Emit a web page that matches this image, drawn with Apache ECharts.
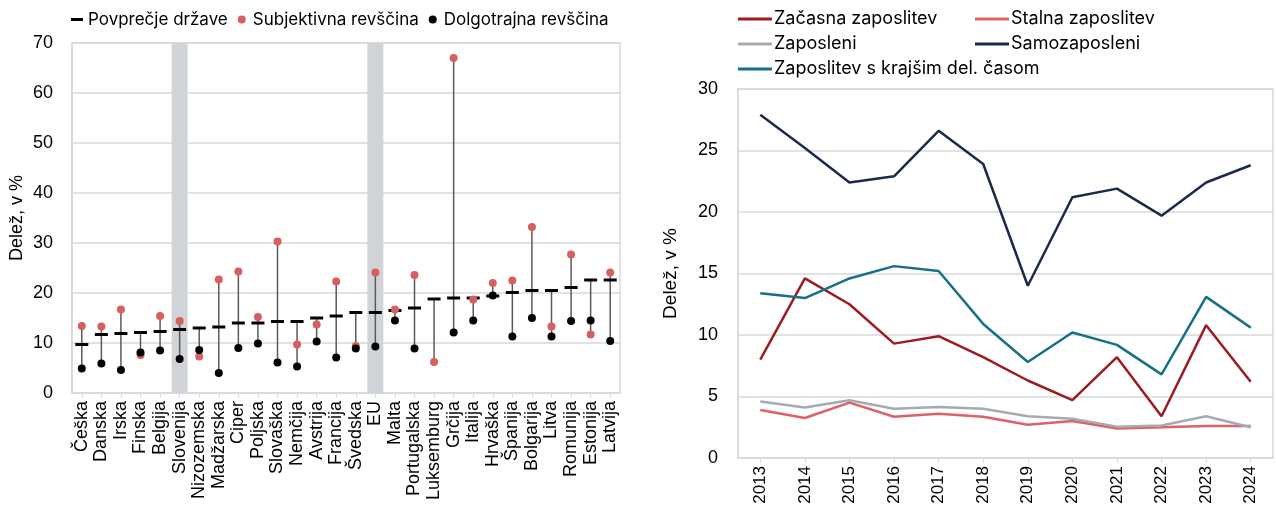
<!DOCTYPE html>
<html>
<head>
<meta charset="utf-8">
<script src="https://cdn.jsdelivr.net/npm/echarts@6/dist/echarts.min.js"></script>
<style>
html,body{margin:0;padding:0;background:#fff;}
#c{width:1276px;height:516px;}
</style>
</head>
<body>
<div id="c"></div>
<script>
// ---- Left chart data ----
const countries = ['Češka','Danska','Irska','Finska','Belgija','Slovenija','Nizozemska','Madžarska','Ciper','Poljska','Slovaška','Nemčija','Avstrija','Francija','Švedska','EU','Malta','Portugalska','Luksemburg','Grčija','Italija','Hrvaška','Španija','Bolgarija','Litva','Romunija','Estonija','Latvija'];
const avgCountry = [9.7,11.7,11.9,12.1,12.3,12.7,13.0,13.2,14.0,14.0,14.3,14.3,15.0,15.4,16.1,16.1,16.5,17.0,18.8,19.0,19.0,19.4,20.1,20.5,20.5,21.1,22.6,22.6];
const subjective = [13.4,13.3,16.7,7.6,15.4,14.4,7.3,22.7,24.3,15.2,30.3,9.7,13.7,22.3,9.4,24.1,16.7,23.6,6.2,67.0,18.7,22.0,22.5,33.2,13.3,27.7,11.7,24.1];
const longTerm = [4.9,5.9,4.6,8.1,8.5,6.8,8.6,4.0,9.0,9.9,6.1,5.3,10.3,7.1,8.9,9.3,14.5,8.9,null,12.1,14.5,19.5,11.3,15.0,11.3,14.4,14.5,10.4];
const highlighted = ['Slovenija','EU'];
const leftYMax = 70;

// ---- Right chart data ----
const years = ['2013','2014','2015','2016','2017','2018','2019','2020','2021','2022','2023','2024'];
const temporary = [8.0,14.6,12.5,9.3,9.9,8.2,6.3,4.7,8.2,3.4,10.8,6.2];
const permanent = [3.9,3.25,4.5,3.35,3.6,3.35,2.7,3.0,2.4,2.5,2.6,2.6];
const employed = [4.6,4.1,4.7,4.0,4.15,4.0,3.4,3.2,2.55,2.65,3.4,2.5];
const selfEmployed = [27.9,25.2,22.4,22.9,26.6,23.9,14.0,21.2,21.9,19.7,22.4,23.8];
const partTime = [13.4,13.0,14.6,15.6,15.2,10.9,7.8,10.2,9.2,6.8,13.1,10.6];

const chart = echarts.init(document.getElementById('c'), null, {renderer:'canvas'});

const tickFont = {fontFamily:'Liberation Sans, Arial, sans-serif', color:'#000'};
const legendFont = 'Inter, sans-serif';

const rangeData = countries.map((c,i)=>{
  const vals=[avgCountry[i],subjective[i],longTerm[i]].filter(v=>v!=null);
  return [i, Math.min(...vals), Math.max(...vals)];
});
const bandData = countries.map(c=> highlighted.includes(c) ? leftYMax : null);

const option = {
  animation:false,
  backgroundColor:'#fff',
  grid:[
    {left:72, right:656, top:43, bottom:123, show:true, borderColor:'#d9d9d9', borderWidth:1.5, containLabel:false},
    {left:738, right:3, top:89, bottom:58, show:true, borderColor:'#d9d9d9', borderWidth:1.5, containLabel:false}
  ],
  legend:[
    {left:66, top:6, itemWidth:12, itemHeight:8, itemGap:10,
     textStyle:{fontFamily:legendFont, fontSize:17, color:'#000'},
     data:[
       {name:'Povprečje države', icon:'path://M0,0 L12,0 L12,3 L0,3 Z'},
       {name:'Subjektivna revščina', icon:'circle'},
       {name:'Dolgotrajna revščina', icon:'circle'}
     ]},
    {left:733, top:5, orient:'vertical', itemWidth:34, itemHeight:3, itemGap:7,
     textStyle:{fontFamily:legendFont, fontSize:18, color:'#000', padding:[0,0,0,-3]},
     data:[{name:'Začasna zaposlitev', icon:'rect'},{name:'Zaposleni', icon:'rect'},{name:'Zaposlitev s krajšim del. časom', icon:'rect'}]},
    {left:970, top:5, orient:'vertical', itemWidth:34, itemHeight:3, itemGap:7,
     textStyle:{fontFamily:legendFont, fontSize:18, color:'#000', padding:[0,0,0,-3]},
     data:[{name:'Stalna zaposlitev', icon:'rect'},{name:'Samozaposleni', icon:'rect'}]}
  ],
  xAxis:[
    {type:'category', gridIndex:0, data:countries, boundaryGap:true,
     axisLine:{show:true, lineStyle:{color:'#d9d9d9', width:1.5}},
     axisTick:{show:true, alignWithLabel:true, length:5, lineStyle:{color:'#d9d9d9'}},
     axisLabel:{rotate:90, interval:0, margin:8, fontSize:18, ...tickFont},
     splitLine:{show:false}},
    {type:'category', gridIndex:1, data:years, boundaryGap:true,
     axisLine:{show:true, lineStyle:{color:'#d9d9d9', width:1.5}},
     axisTick:{show:true, alignWithLabel:true, length:5, lineStyle:{color:'#d9d9d9'}},
     axisLabel:{rotate:90, interval:0, margin:8, fontSize:17, ...tickFont},
     splitLine:{show:false}}
  ],
  yAxis:[
    {type:'value', gridIndex:0, min:0, max:leftYMax, interval:10,
     name:'Delež, v %', nameLocation:'middle', nameRotate:90, nameGap:46,
     nameTextStyle:{fontSize:18, ...tickFont},
     axisLine:{show:true, lineStyle:{color:'#d9d9d9', width:1.5}}, axisTick:{show:false},
     axisLabel:{margin:19, fontSize:18, ...tickFont},
     splitLine:{show:true, lineStyle:{color:'#d9d9d9', width:1.5}}},
    {type:'value', gridIndex:1, min:0, max:30, interval:5,
     name:'Delež, v %', nameLocation:'middle', nameRotate:90, nameGap:58,
     nameTextStyle:{fontSize:19, ...tickFont},
     axisLine:{show:true, lineStyle:{color:'#d9d9d9', width:1.5}}, axisTick:{show:false},
     axisLabel:{margin:20, fontSize:18, ...tickFont},
     splitLine:{show:true, lineStyle:{color:'#d9d9d9', width:1.5}}}
  ],
  series:[
    {name:'band', type:'bar', xAxisIndex:0, yAxisIndex:0, data:bandData, barWidth:16,
     itemStyle:{color:'#d0d4d8'}, silent:true, z:1},
    {name:'range', type:'custom', xAxisIndex:0, yAxisIndex:0, data:rangeData, z:2,
     renderItem:function(params, api){
       const p1 = api.coord([api.value(0), api.value(1)]);
       const p2 = api.coord([api.value(0), api.value(2)]);
       return {type:'line', shape:{x1:p1[0], y1:p1[1], x2:p2[0], y2:p2[1]},
               style:{stroke:'#5a5a5a', lineWidth:1.5}};
     }},
    {name:'Povprečje države', type:'scatter', xAxisIndex:0, yAxisIndex:0, data:avgCountry,
     symbol:'rect', symbolSize:[13,3], itemStyle:{color:'#000', opacity:1}, z:3},
    {name:'Subjektivna revščina', type:'scatter', xAxisIndex:0, yAxisIndex:0, data:subjective,
     symbol:'circle', symbolSize:8, itemStyle:{color:'#d65f5f', opacity:1}, z:4},
    {name:'Dolgotrajna revščina', type:'scatter', xAxisIndex:0, yAxisIndex:0, data:longTerm,
     symbol:'circle', symbolSize:8, itemStyle:{color:'#000', opacity:1}, z:5},

    {name:'Začasna zaposlitev', type:'line', xAxisIndex:1, yAxisIndex:1, data:temporary,
     showSymbol:false, symbol:'none', lineStyle:{color:'#9c1c22', width:2.5}, itemStyle:{color:'#9c1c22'}},
    {name:'Stalna zaposlitev', type:'line', xAxisIndex:1, yAxisIndex:1, data:permanent,
     showSymbol:false, symbol:'none', lineStyle:{color:'#dd6165', width:2.5}, itemStyle:{color:'#dd6165'}},
    {name:'Zaposleni', type:'line', xAxisIndex:1, yAxisIndex:1, data:employed,
     showSymbol:false, symbol:'none', lineStyle:{color:'#a6abb1', width:2.5}, itemStyle:{color:'#a6abb1'}},
    {name:'Samozaposleni', type:'line', xAxisIndex:1, yAxisIndex:1, data:selfEmployed,
     showSymbol:false, symbol:'none', lineStyle:{color:'#1b2a4a', width:2.5}, itemStyle:{color:'#1b2a4a'}},
    {name:'Zaposlitev s krajšim del. časom', type:'line', xAxisIndex:1, yAxisIndex:1, data:partTime,
     showSymbol:false, symbol:'none', lineStyle:{color:'#177089', width:2.5}, itemStyle:{color:'#177089'}}
  ]
};
chart.setOption(option);
</script>
</body>
</html>
